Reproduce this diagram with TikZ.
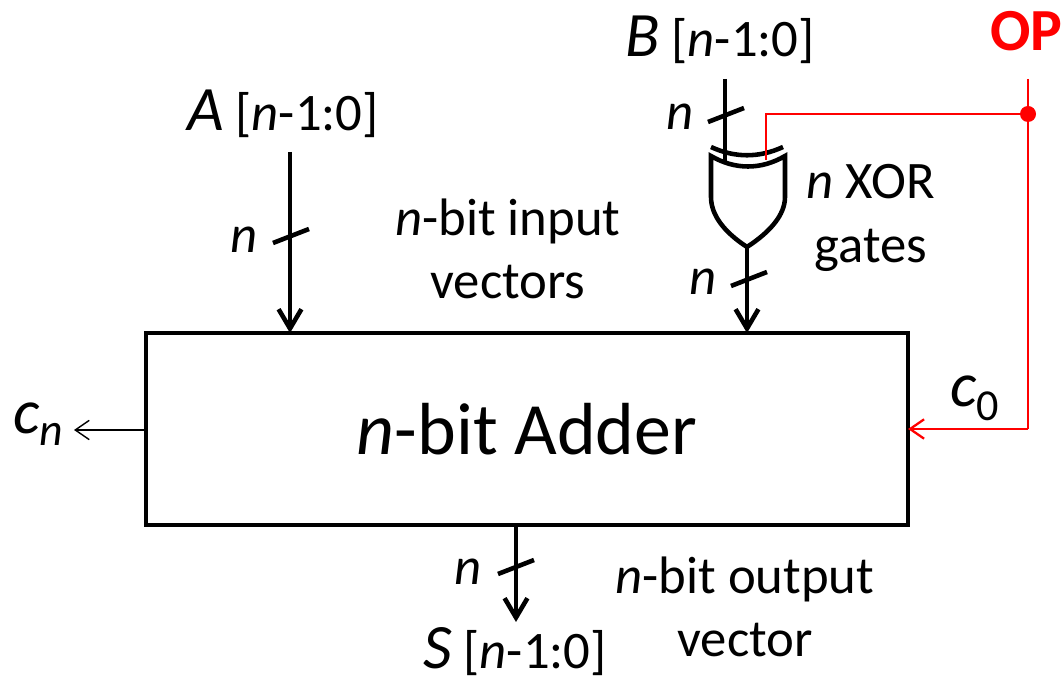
\documentclass[tikz,border=0pt]{standalone}
\usepackage{fontspec}
\setmainfont{Carlito}
\usetikzlibrary{arrows.meta, calc}
\newcommand{\biglet}[1]{{\fontsize{36}{36}\selectfont\textit{#1}}}
\newcommand{\lowsub}[1]{\raisebox{-7pt}{\fontsize{26}{26}\selectfont #1}}
\begin{document}
\begin{tikzpicture}[
    x=0.02cm, y=-0.02cm,
    adderbox/.style={draw, line width=2.6pt, minimum width=15.24cm, minimum height=3.84cm, font=\fontsize{42}{48}\selectfont, inner sep=0pt},
    lbl/.style={align=center, inner sep=0pt, font=\fontsize{30}{36}\selectfont},
    bus/.style={-{Straight Barb[length=11pt,width=13pt,line width=2.6pt]}, line width=2.6pt},
    wire/.style={line width=2.6pt},
    thin arrow/.style={-{Straight Barb[length=8pt,width=11pt]}, line width=0.8pt},
    opline/.style={red, line width=1.3pt}
]
\useasboundingbox (0,0) rectangle (1062,678);
\node[adderbox] (adder) at (527,429) {\textit{n}-bit Adder};
% labels
\node[lbl] (lblA) at (283,114) {\biglet{A} [\textit{n}-1:0]};
\node[lbl] (lblB) at (720,40) {\biglet{B} [\textit{n}-1:0]};
\node[lbl] (lblS) at (515,652) {\biglet{S} [\textit{n}-1:0]};
\node[lbl] (lblin) at (508,249) {\textit{n}-bit input\\vectors};
\node[lbl] (lblxor) at (871,218) {\textit{n} XOR\\gates};
\node[lbl] (lblout) at (745,607) {\textit{n}-bit output\\vector};
\node[lbl] (nA) at (244,240) {\textit{n}};
\node[lbl] (nB) at (680,117) {\textit{n}};
\node[lbl] (nG) at (703,282) {\textit{n}};
\node[lbl] (nS) at (468,572) {\textit{n}};
\node[lbl, anchor=west, font=\fontsize{36}{36}\selectfont] (cn) at (13,424) {\textit{c\lowsub{n}}};
\node[lbl, anchor=west, font=\fontsize{36}{36}\selectfont] (czero) at (950,398) {\textit{c}\textsubscript{0}};
\node[lbl, anchor=west, red, font=\fontsize{34}{36}\selectfont\bfseries] (op) at (990,31) {OP};
% connection points
\coordinate (inA) at (290,152);
\coordinate (addA) at (290,333);
\coordinate (inB) at (725,79);
\coordinate (gateB) at (725,163);
\coordinate (gateOp) at (766,160);
\coordinate (gateTip) at (747,247);
\coordinate (addB) at (747,333);
\coordinate (addS) at (516,525);
\coordinate (outS) at (516,622);
\coordinate (addC) at (908,429);
\coordinate (addN) at (146,430);
\coordinate (outN) at (74,430);
\coordinate (opTop) at (1028,79);
\coordinate (opDot) at (1028,114);
\coordinate (opCorner) at (1028,429);
\coordinate (opBend) at (766,114);
% buses
\draw[bus] (inA) -- (addA);
\draw[wire] (inB) -- (gateB);
\draw[bus] (gateTip) -- (addB);
\draw[bus] (addS) -- (outS);
\foreach \px/\py in {291/236, 726/115, 749/279, 516/567}
    \draw[wire] (\px-18,\py+7) -- (\px+18,\py-7);
% xor gate
\draw[wire] (711,147) .. controls (735,158) and (759,158) .. (783,147);
\draw[wire, line join=miter] (711,156) .. controls (735,170) and (761,170) .. (785,156)
    -- (785,197) .. controls (785,215) and (770,232) .. (747,247)
    .. controls (724,232) and (711,215) .. (711,197) -- cycle;
% red control
\draw[opline] (opTop) -- (opCorner);
\draw[opline] (opDot) -- (opBend) -- (gateOp);
\draw[red, thin arrow, line width=1.3pt] (opCorner) -- (addC);
\fill[red] (opDot) circle (8);
% carry out
\draw[thin arrow] (addN) -- (outN);
\end{tikzpicture}
\end{document}
